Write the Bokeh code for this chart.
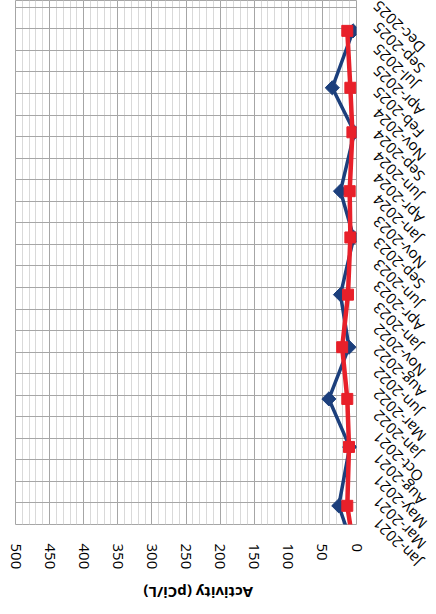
import math
import pandas as pd
from bokeh.plotting import figure
from bokeh.layouts import row, column
from bokeh.models import Range1d, FixedTicker, ColumnDataSource
from bokeh.core.properties import value
from bokeh.embed import file_html
from bokeh.resources import INLINE

# ---- data ----
sample_dates = ["2020-07-10", "2020-12-22", "2021-07-15", "2021-12-29", "2022-06-27",
                "2022-12-27", "2023-07-14", "2023-12-22", "2024-07-14", "2024-12-16",
                "2025-07-02"]
series_blue = [2, 26, 10, 40.5, 11, 23.5, 4, 23.5, 3, 35.5, 5]
series_red = [3, 13.5, 11, 13.5, 21, 12.5, 9, 10, 6, 9, 13.5]

date_tick_labels = ["Jan-2021", "Mar-2021", "May-2021", "Aug-2021", "Oct-2021",
                    "Jan-2022", "Mar-2022", "Jun-2022", "Aug-2022", "Nov-2022",
                    "Jan-2023", "Apr-2023", "Jun-2023", "Sep-2023", "Nov-2023",
                    "Jan-2024", "Apr-2024", "Jun-2024", "Sep-2024", "Nov-2024",
                    "Feb-2025", "Apr-2025", "Jul-2025", "Sep-2025", "Dec-2025"]
value_ticks = [0, 50, 100, 150, 200, 250, 300, 350, 400, 450, 500]
value_minor_ticks = list(range(0, 501, 10))
axis_title = "Activity (pCi/L)"

# ---- layout constants ----
FONT = "Open Sans"
BLUE = "#1c3f7c"
RED = "#e8202a"
GRID = "#a6a6a6"
MINOR = "#d9d9d9"

MAIN_W, MAIN_H = 368, 582
FRAME_L, FRAME_R, FRAME_B = 15, 356, 524          # page pixels
SIDE_W, SIDE_H = 436 - MAIN_W, 614
TITLE_H = 32
MAJOR_PX = 21.55                                   # pixels per 75-day major unit
LABEL_DX, LABEL_DY = 19, 18                        # label end relative to its tick (px)

axis_origin = pd.Timestamp("2021-01-01")
major_unit = pd.Timedelta(days=75)
px_per_day = MAJOR_PX / 75.0
tick_dates = [axis_origin + major_unit * k for k in range(len(date_tick_labels))]
to_ms = lambda ts: pd.Timestamp(ts).value / 1e6
tick_ms = [to_ms(t) for t in tick_dates]

y_start = axis_origin - major_unit
y_end = y_start + pd.Timedelta(days=FRAME_B / px_per_day)
side_y_start = y_end - pd.Timedelta(days=SIDE_H / px_per_day)


def bare(fig):
    fig.background_fill_color = "white"
    fig.border_fill_color = "white"
    fig.outline_line_color = None
    fig.grid.visible = False
    return fig


# ---- main plot ----
p = figure(width=MAIN_W, height=MAIN_H, output_backend="svg", toolbar_location=None,
           x_range=Range1d(500, 0), y_range=Range1d(to_ms(y_start), to_ms(y_end)),
           y_axis_location=None, min_border_left=FRAME_L, min_border_right=MAIN_W - FRAME_R,
           min_border_top=0, min_border_bottom=MAIN_H - FRAME_B)
p.background_fill_color = "white"
p.border_fill_color = "white"
p.outline_line_color = GRID
p.outline_line_width = 1

xa = p.xaxis[0]
xa.ticker = FixedTicker(ticks=value_ticks, minor_ticks=value_minor_ticks)
xa.major_label_orientation = "vertical"
xa.major_label_text_font = FONT
xa.major_label_text_font_size = "15px"
xa.major_label_text_color = "#000000"
xa.major_label_standoff = 13
xa.axis_line_color = None
xa.major_tick_line_color = None
xa.minor_tick_line_color = None

p.xgrid.grid_line_color = GRID
p.xgrid.minor_grid_line_color = MINOR
p.ygrid.ticker = FixedTicker(ticks=tick_ms)
p.ygrid.grid_line_color = GRID

src = ColumnDataSource(dict(date=[to_ms(d) for d in sample_dates],
                            blue=series_blue, red=series_red))
p.line(x="blue", y="date", source=src, line_color=BLUE, line_width=3.5)
p.scatter(x="blue", y="date", source=src, marker="square", angle=math.pi / 4,
          size=10, fill_color=BLUE, line_color=BLUE)
p.line(x="red", y="date", source=src, line_color=RED, line_width=4.5)
p.scatter(x="red", y="date", source=src, marker="square", size=11,
          fill_color=RED, line_color=RED)

# ---- axis title strip (same value scale as the plot) ----
t = bare(figure(width=MAIN_W, height=TITLE_H, output_backend="svg", toolbar_location=None,
                x_range=Range1d(500, 0), y_range=Range1d(0, TITLE_H),
                x_axis_location=None, y_axis_location=None,
                min_border_left=FRAME_L, min_border_right=MAIN_W - FRAME_R,
                min_border_top=0, min_border_bottom=0))
t.text(x=[232], y=[TITLE_H - 10], text=[axis_title], angle=math.pi,
       text_align="center", text_baseline="middle", text_font=value(FONT),
       text_font_size="15px", text_font_style="bold", text_color="#000000")

# ---- date tick labels strip (same date scale as the plot, x in pixels) ----
s = bare(figure(width=SIDE_W, height=SIDE_H, output_backend="svg", toolbar_location=None,
                x_range=Range1d(0, SIDE_W), y_range=Range1d(to_ms(side_y_start), to_ms(y_end)),
                x_axis_location=None, y_axis_location=None,
                min_border_left=0, min_border_right=0, min_border_top=0, min_border_bottom=0))
label_shift = pd.Timedelta(days=LABEL_DY / px_per_day)
label_x = [FRAME_R + LABEL_DX - MAIN_W] * len(tick_dates)
label_y = [to_ms(d - label_shift) for d in tick_dates]
s.text(x=label_x, y=label_y, text=date_tick_labels, angle=3 * math.pi / 4,
       text_align="right", text_baseline="middle", text_font=value(FONT),
       text_font_size="15px", text_color="#000000")

layout = row(column(p, t, spacing=0), s, spacing=0)
open("out.html", "w").write(file_html(layout, INLINE))
